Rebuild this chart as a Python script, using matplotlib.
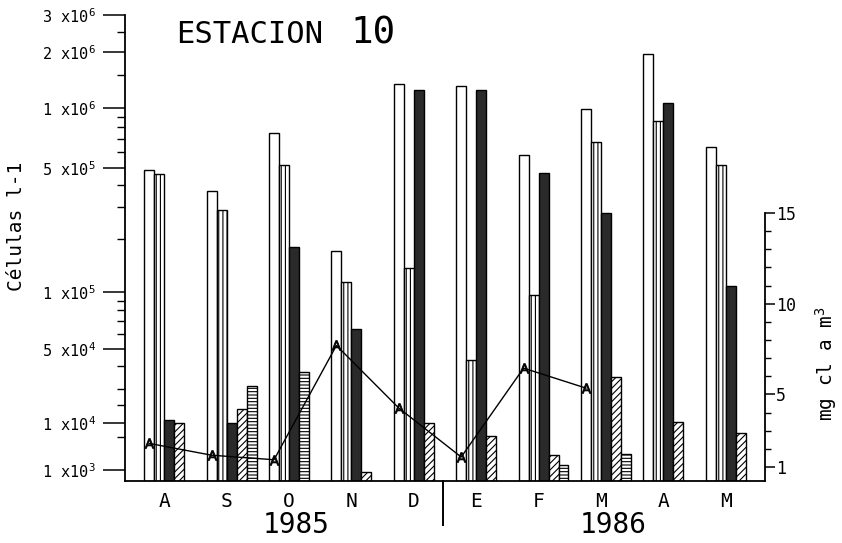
import numpy as np
import matplotlib
matplotlib.use("Agg")
import matplotlib.pyplot as plt
from matplotlib.lines import Line2D
from matplotlib.transforms import blended_transform_factory

# ---------------- data ----------------
months = ['A', 'S', 'O', 'N', 'D', 'E', 'F', 'M', 'A', 'M']
years = ['1985', '1986']

# cells per litre (five groups of organisms)
white_vals = [4.9e5, 3.7e5, 7.5e5, 1.7e5, 1.35e6, 1.32e6, 5.8e5, 9.9e5, 1.96e6, 6.4e5]
vstripe_vals = [4.6e5, 2.9e5, 5.2e5, 1.14e5, 1.37e5, 4.3e4, 9.6e4, 6.75e5, 8.6e5, 5.2e5]
black_vals = [1.12e4, 1.0e4, 1.79e5, 6.4e4, 1.25e6, 1.25e6, 4.7e5, 2.8e5, 1.06e6, 1.08e5]
diag_vals = [1.0e4, 1.7e4, None, 9.1e2, 1.0e4, 5.3e3, 2.1e3, 3.5e4, 1.03e4, 6.1e3]
hstripe_vals = [None, 3.1e4, 3.7e4, None, None, None, 1.28e3, 2.2e3, None, None]

# chlorophyll a (mg m-3)
chl_vals = [2.3, 1.65, 1.4, 7.7, 4.25, 1.55, 6.45, 5.35, None, None]

left_major = [1e3, 1e4, 5e4, 1e5, 5e5, 1e6, 2e6, 3e6]
left_major_labels = ['1 x10$^{3}$', '1 x10$^{4}$', '5 x10$^{4}$', '1 x10$^{5}$',
                     '5 x10$^{5}$', '1 x10$^{6}$', '2 x10$^{6}$', '3 x10$^{6}$']
left_minor = [5e3, 2e4, 3e4, 4e4, 6e4, 7e4, 8e4, 9e4, 2e5, 3e5, 4e5,
              6e5, 7e5, 8e5, 9e5, 1.5e6, 2.5e6]
right_major = [1, 5, 10, 15]
right_minor = [2, 3, 4, 6, 7, 8, 9, 11, 12, 13, 14]

# ---------------- style ----------------
plt.rcParams['font.family'] = 'DejaVu Sans Mono'
plt.rcParams['mathtext.default'] = 'regular'
plt.rcParams['hatch.linewidth'] = 0.8
plt.rcParams['axes.linewidth'] = 1.3

W, H = 842, 543
fig = plt.figure(figsize=(W / 100, H / 100), dpi=100)
L, R, T, B = 125, 765, 15, 481
ax = fig.add_axes([L / W, 1 - B / H, (R - L) / W, (B - T) / H])

# hand-drawn, piecewise logarithmic cell axis (calibration of the original)
cal_log = np.log10([1e2, 1e3, 1e4, 2e4, 3e4, 4e4, 5e4, 1e5, 5e5, 1e6, 2e6, 3e6, 1e7])
cal_pos = np.array([-36, 11, 58, 76, 92, 115, 132, 189, 313, 373, 429, 466, 576], float)


def fwd(v):
    v = np.asarray(v, float)
    return np.interp(np.log10(np.clip(v, 1e-9, None)), cal_log, cal_pos)


def inv(p):
    return 10 ** np.interp(np.asarray(p, float), cal_pos, cal_log)


ax.set_yscale('function', functions=(fwd, inv))
y0 = float(inv(0))
ax.set_ylim(y0, 3e6)

w = 0.16
ax.set_xlim(-0.309, 9.95)

series = [
    (white_vals, 'white', None),
    (vstripe_vals, 'white', '||||'),
    (black_vals, '#2a2a2a', None),
    (diag_vals, 'white', '/////'),
    (hstripe_vals, 'white', '-----'),
]
for i in range(len(months)):
    k = 0
    for vals, fc, hatch in series:
        v = vals[i]
        if v is None:
            continue
        ax.bar(i + k * w, v - y0, bottom=y0, width=w, align='edge',
               facecolor=fc, edgecolor='black', hatch=hatch, linewidth=1.0)
        k += 1

# axes decoration
ax.spines['top'].set_visible(False)
ax.spines['right'].set_visible(False)
ax.set_yticks(left_major)
ax.set_yticklabels(left_major_labels)
ax.set_yticks(left_minor, minor=True)
ax.yaxis.set_minor_formatter(plt.NullFormatter())
ax.tick_params(axis='y', which='major', direction='out', length=16, width=1.1,
               pad=5, labelsize=11)
ax.tick_params(axis='y', which='minor', direction='out', length=6, width=1.0)
ax.set_xticks(np.arange(len(months)) + 2 * w)
ax.set_xticklabels(months)
ax.tick_params(axis='x', length=0, pad=8, labelsize=14)

# chlorophyll axis
ax2 = ax.twinx()
ax2.set_ylim(0.228, 25.92)
ax2.set_xlim(ax.get_xlim())
for s in ['top', 'left', 'bottom']:
    ax2.spines[s].set_visible(False)
ax2.spines['right'].set_bounds(0.228, 15)
ax2.set_yticks(right_major)
ax2.set_yticklabels([str(t) for t in right_major])
ax2.set_yticks(right_minor, minor=True)
ax2.yaxis.set_minor_formatter(plt.NullFormatter())
ax2.tick_params(axis='y', which='major', direction='out', length=7, width=1.1,
                pad=1, labelsize=12)
ax2.tick_params(axis='y', which='minor', direction='out', length=4, width=1.0)

cx = [i + w / 2 for i, c in enumerate(chl_vals) if c is not None]
cy = [c for c in chl_vals if c is not None]
ax2.plot(cx, cy, color='black', lw=1.0, marker=r'$\mathrm{A}$', ms=7,
         markeredgewidth=0.6, zorder=5)

# years & separator
tr = blended_transform_factory(ax.transData, ax.transAxes)
ax.text(2.43, -0.094, years[0], transform=tr, ha='center', va='center', fontsize=20)
ax.text(7.51, -0.094, years[1], transform=tr, ha='center', va='center', fontsize=20)
ax.add_line(Line2D([4.79, 4.79], [0, -0.094], transform=tr, color='black',
                   lw=1.4, clip_on=False))

# labels and title
fig.text(17 / W, 1 - 226 / H, 'Células l-1', rotation=90, ha='center', va='center',
         fontsize=14)
fig.text(826 / W, 1 - 363 / H, 'mg cl a m$^{3}$', rotation=90, ha='center',
         va='center', fontsize=14)
fig.text(176 / W, 1 - 43 / H, 'ESTACION', fontsize=22, va='baseline', ha='left')
fig.text(350 / W, 1 - 43 / H, '10', fontsize=27, va='baseline', ha='left')

fig.savefig('out.png', dpi=100, facecolor='white')
